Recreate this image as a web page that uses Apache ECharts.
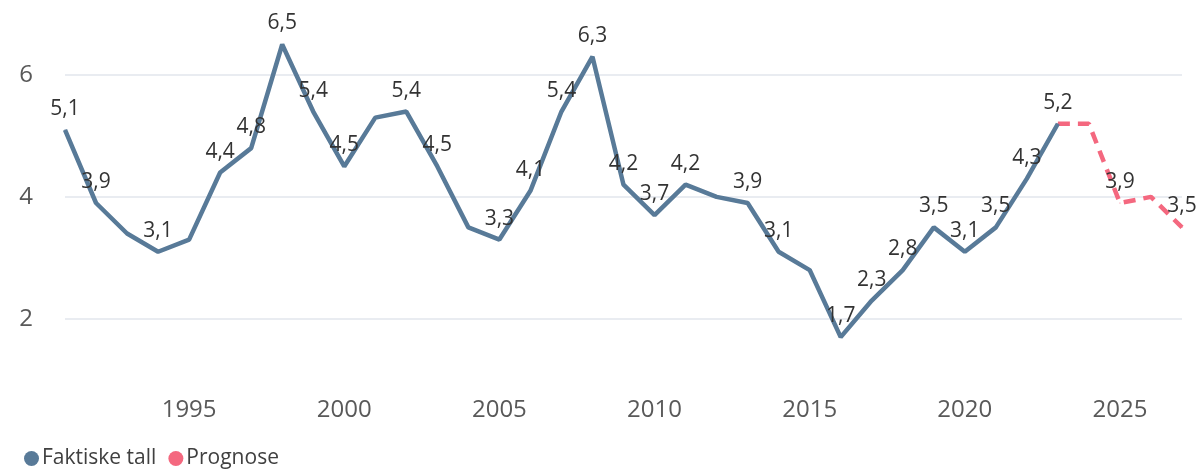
<!DOCTYPE html>
<html>
<head>
<meta charset="utf-8">
<script src="https://cdn.jsdelivr.net/npm/echarts@6/dist/echarts.min.js"></script>
<style>
  html, body { margin: 0; padding: 0; background: #fff; }
  #chart { width: 1198px; height: 469px; }
</style>
</head>
<body>
<div id="chart"></div>
<script>
const years = []
for (let y = 1991; y <= 2027; y++) years.push(String(y))

// faktiske tall 1991-2023
const actual = [5.1, 3.9, 3.4, 3.1, 3.3, 4.4, 4.8, 6.5, 5.4, 4.5,
  5.3, 5.4, 4.5, 3.5, 3.3, 4.1, 5.4, 6.3, 4.2, 3.7,
  4.2, 4.0, 3.9, 3.1, 2.8, 1.7, 2.3, 2.8, 3.5, 3.1,
  3.5, 4.3, 5.2]
// prognose 2023-2027
const forecast = [5.2, 5.2, 3.9, 4.0, 3.5]
const forecastStart = '2023'

// years that carry a value label
const labelledYears = ['1991', '1992', '1994', '1996', '1997', '1998', '1999', '2000',
  '2002', '2003', '2005', '2006', '2007', '2008', '2009', '2010', '2011', '2013',
  '2014', '2016', '2017', '2018', '2019', '2020', '2021', '2022', '2023', '2025', '2027']

const yTicks = [2, 4, 6]
const xTickYears = ['1995', '2000', '2005', '2010', '2015', '2020', '2025']

const font = 'Open Sans'
const fmt = v => String(v).replace('.', ',')

function buildData(values, startIdx, skipLabelAt) {
  const out = years.map(() => null)
  values.forEach((v, i) => {
    const year = years[startIdx + i]
    out[startIdx + i] = {
      value: v,
      label: { show: labelledYears.includes(year) && year !== skipLabelAt }
    }
  })
  return out
}

const labelStyle = {
  show: false,
  position: 'top',
  distance: 10,
  formatter: p => fmt(p.value),
  fontFamily: font,
  fontSize: 21,
  color: '#333'
}

const chart = echarts.init(document.getElementById('chart'))
chart.setOption({
  animation: false,
  grid: { left: 65, right: 16, top: 14, bottom: 77 },
  legend: {
    left: 19,
    bottom: -5,
    itemGap: 12,
    itemWidth: 15,
    itemHeight: 15,
    icon: 'circle',
    textStyle: { fontFamily: font, fontSize: 21, color: '#404040', padding: [0, 0, 0, -2] },
    data: ['Faktiske tall', 'Prognose']
  },
  xAxis: {
    type: 'category',
    data: years,
    boundaryGap: false,
    axisLine: { show: false },
    axisTick: { show: false },
    axisLabel: {
      interval: (idx, val) => xTickYears.includes(val),
      fontFamily: font,
      fontSize: 24,
      color: '#595959',
      margin: 6
    }
  },
  yAxis: {
    type: 'value',
    min: 0.8,
    max: 7,
    axisLine: { show: false },
    axisTick: { show: false, customValues: yTicks },
    axisLabel: {
      customValues: yTicks,
      fontFamily: font,
      fontSize: 24,
      color: '#595959',
      margin: 32
    },
    splitLine: { show: true, lineStyle: { color: '#e9ecf1', width: 2 } }
  },
  series: [
    {
      name: 'Faktiske tall',
      type: 'line',
      data: buildData(actual, 0),
      symbol: 'circle',
      symbolSize: 1,
      showSymbol: true,
      showAllSymbol: true,
      itemStyle: { color: '#587a98' },
      lineStyle: { width: 4.5, color: '#587a98' },
      label: labelStyle,
      labelLayout: { hideOverlap: false },
      z: 3
    },
    {
      name: 'Prognose',
      type: 'line',
      data: buildData(forecast, years.indexOf(forecastStart), forecastStart),
      symbol: 'circle',
      symbolSize: 1,
      showSymbol: true,
      showAllSymbol: true,
      itemStyle: { color: '#f4687f' },
      lineStyle: { width: 4.5, color: '#f4687f', type: [12, 8] },
      label: labelStyle,
      labelLayout: { hideOverlap: false },
      z: 2
    }
  ]
})
</script>
</body>
</html>
